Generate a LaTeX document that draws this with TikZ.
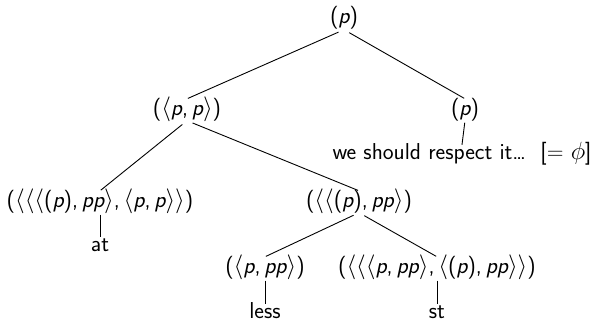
\documentclass[tikz,border=0pt]{standalone}
\usepackage{fontspec}
\newcommand{\vp}{{\itshape p}}
\newcommand{\la}{$\langle$}
\newcommand{\ra}{$\rangle$}
\newcommand{\cm}{,\,}
\begin{document}
\begin{tikzpicture}[x=1pt,y=-1pt,
  lab/.style={font=\sffamily\fontsize{23}{26}\selectfont, inner sep=0pt,
    text height=16pt, text depth=5.5pt, anchor=base},
  leaf/.style={lab, text height=14pt, text depth=0pt},
  edge/.style={line width=0.9pt, shorten <=6pt, shorten >=1pt},
  leafedge/.style={line width=0.9pt, shorten <=2pt, shorten >=0pt}]
\useasboundingbox (0,0) rectangle (594,321);
\node[lab] (r) at (344,24) {(\vp)};
\node[lab] (a) at (187,115) {(\la\vp\cm\vp\ra)};
\node[lab] (b) at (465,115) {(\vp)};
\node[leaf] (bl) at (462,159) {we should respect it\ldots\ \ [= $\phi$]};
\node[lab] (c) at (100,207) {(\la\la\la(\vp)\cm\vp\vp\ra\cm\la\vp\cm\vp\ra\ra)};
\node[leaf] (cl) at (100,251) {at};
\node[lab] (d) at (359,207) {(\la\la(\vp)\cm\vp\vp\ra)};
\node[lab] (e) at (265,273) {(\la\vp\cm\vp\vp\ra)};
\node[leaf] (el) at (265,318) {less};
\node[lab] (f) at (437,273) {(\la\la\la\vp\cm\vp\vp\ra\cm\la(\vp)\cm\vp\vp\ra\ra)};
\node[leaf] (fl) at (437,318) {st};
\draw[edge] (r.south) -- (a.north);
\draw[edge] (r.south) -- (b.north);
\draw[leafedge] (b.south) -- (bl.north);
\draw[edge] (a.south) -- (c.north);
\draw[edge] (a.south) -- (d.north);
\draw[leafedge] (c.south) -- (cl.north);
\draw[edge] (d.south) -- (e.north);
\draw[edge] (d.south) -- (f.north);
\draw[leafedge] (e.south) -- (el.north);
\draw[leafedge] (f.south) -- (fl.north);
\end{tikzpicture}
\end{document}
